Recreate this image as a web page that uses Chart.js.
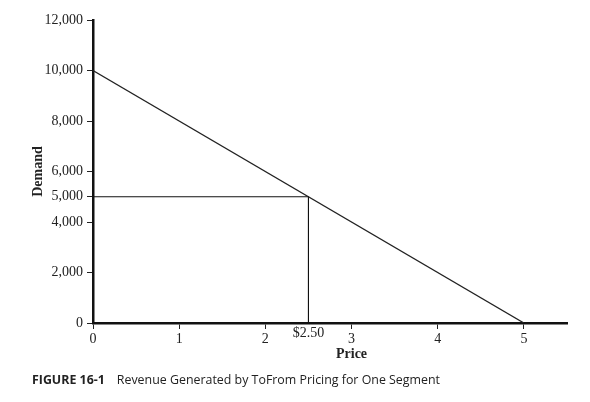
<!DOCTYPE html>
<html>
<head>
<meta charset="utf-8">
<script src="https://cdn.jsdelivr.net/npm/chart.js@4.4.0/dist/chart.umd.min.js"></script>
<style>
  html, body { margin: 0; padding: 0; background: #fff; }
  #wrap { position: relative; width: 590px; height: 402px; }
  #c { position: absolute; left: 0; top: 0; }
  #caption { position: absolute; left: 32px; top: 371px; font-family: "Open Sans", sans-serif; font-size: 12.4px; color: #222; white-space: nowrap; }
  #caption b { font-weight: 700; margin-right: 12px; }
</style>
</head>
<body>
<div id="wrap">
  <canvas id="c" width="590" height="402"></canvas>
  <div id="caption"><b>FIGURE 16-1</b>Revenue Generated by ToFrom Pricing for One Segment</div>
</div>
<script>
// ---- data ----
const linePrices = [0, 5];
const lineDemand = [10000, 0];
const markerPrice = 2.5;
const markerDemand = 5000;
const markerLabel = "$2.50";
const priceTicks = [0, 1, 2, 3, 4, 5];
const demandTicks = [0, 2000, 4000, 5000, 6000, 8000, 10000, 12000];
const xTitle = "Price";
const yTitle = "Demand";

const serif = '"Liberation Serif", "Times New Roman", serif';

const demandData = linePrices.map((p, i) => ({ x: p, y: lineDemand[i] }));
const hRef = [{ x: 0, y: markerDemand }, { x: markerPrice, y: markerDemand }];
const vRef = [{ x: markerPrice, y: markerDemand }, { x: markerPrice, y: 0 }];

const extraText = {
  id: 'extraText',
  afterDraw(chart) {
    const ctx = chart.ctx;
    const xs = chart.scales.x;
    ctx.save();
    ctx.fillStyle = '#222';
    ctx.textAlign = 'center';
    ctx.textBaseline = 'middle';
    ctx.font = '14px ' + serif;
    ctx.fillText(markerLabel, xs.getPixelForValue(markerPrice), 333);
    ctx.font = 'bold 14px ' + serif;
    ctx.fillText(xTitle, xs.getPixelForValue(3), 354);
    ctx.restore();
  }
};

new Chart(document.getElementById('c'), {
  type: 'scatter',
  data: {
    datasets: [
      { data: demandData, showLine: true, borderColor: '#222', borderWidth: 1.3, pointRadius: 0, fill: false },
      { data: hRef, showLine: true, borderColor: '#111', borderWidth: 1, pointRadius: 0, fill: false },
      { data: vRef, showLine: true, borderColor: '#111', borderWidth: 1, pointRadius: 0, fill: false }
    ]
  },
  options: {
    responsive: false,
    animation: false,
    layout: { padding: { top: 20, right: 23, left: 0, bottom: 0 } },
    plugins: { legend: { display: false }, tooltip: { enabled: false } },
    scales: {
      x: {
        type: 'linear',
        min: 0,
        max: 5.5,
        afterBuildTicks: (s) => { s.ticks = priceTicks.map(v => ({ value: v })); },
        afterFit: (s) => { s.height = 79; },
        ticks: { color: '#222', font: { family: serif, size: 14 }, padding: 2, maxRotation: 0, callback: (v) => String(v) },
        grid: { drawOnChartArea: false, drawTicks: true, tickLength: 6, color: '#222', lineWidth: 1 },
        border: { display: true, color: '#111', width: 2.5 }
      },
      y: {
        type: 'linear',
        min: 0,
        max: 12000,
        afterBuildTicks: (s) => { s.ticks = demandTicks.map(v => ({ value: v })); },
        afterFit: (s) => { s.width = 93; },
        ticks: { color: '#222', font: { family: serif, size: 14 }, padding: 4, callback: (v) => v.toLocaleString('en-US') },
        grid: { drawOnChartArea: false, drawTicks: true, tickLength: 6, color: '#222', lineWidth: 1 },
        border: { display: true, color: '#111', width: 2.5 },
        title: { display: true, text: yTitle, color: '#222', font: { family: serif, size: 14, weight: 'bold' }, padding: { top: 30, bottom: 0 } }
      }
    }
  },
  plugins: [extraText]
});
</script>
</body>
</html>
